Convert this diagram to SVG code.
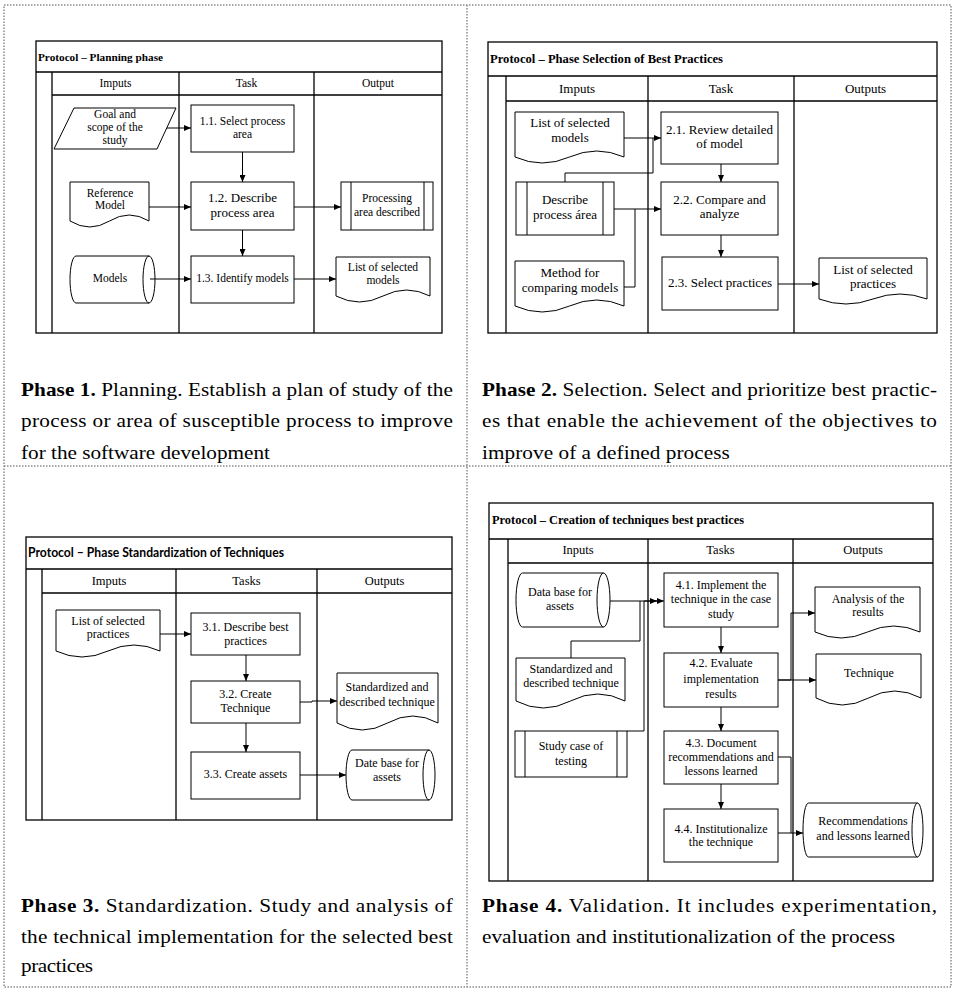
<svg xmlns="http://www.w3.org/2000/svg" width="954" height="989" viewBox="0 0 954 989">
<style>
.dot{fill:none;stroke:#8c8c8c;stroke-width:1.5;stroke-dasharray:1.5 1.5}
.pb{fill:none;stroke:#000;stroke-width:1.3}
.n{fill:#fff;stroke:#000;stroke-width:1}
.c{fill:none;stroke:#000;stroke-width:1}
.ca{fill:none;stroke:#000;stroke-width:1;marker-end:url(#ah)}
text{font-family:"Liberation Serif","Times New Roman",serif;fill:#000}
text.sans{font-family:Lato,"Open Sans",sans-serif}
.m{text-anchor:middle}
.f1{font-size:11.5px}
.f2{font-size:13px}
.f3{font-size:12px}
.hd{font-size:12.5px}
.ti{font-weight:bold}
.cap{font-size:18px}
</style>
<defs>
<marker id="ah" markerWidth="7" markerHeight="6" refX="7" refY="3" orient="auto" markerUnits="userSpaceOnUse">
<path d="M0,0 L7,3 L0,6 Z" fill="#000"/>
</marker>
</defs>
<rect width="954" height="989" fill="#fff"/>
<g id="frame">
<rect class="dot" x="4" y="5" width="947" height="982"/>
<line class="dot" x1="467" y1="5" x2="467" y2="987"/>
<line class="dot" x1="4" y1="466" x2="951" y2="466"/>
</g>

<!-- Phase 1 panel -->
<g id="panel1">
<rect class="pb" x="36" y="41" width="406" height="292"/>
<path class="pb" d="M36,72 H442 M52,72 V333 M52,95 H442 M179,72 V333 M314,72 V333"/>
<text class="ti" x="38" y="61" font-size="11" textLength="125" lengthAdjust="spacingAndGlyphs">Protocol – Planning phase</text>
<text class="m f1" x="115.5" y="87">Imputs</text>
<text class="m f1" x="246.5" y="87">Task</text>
<text class="m f1" x="378" y="87">Output</text>
</g>
<g id="p1-goal" class="f1">
<path class="n" d="M74,108 H176 L157,149 H54 Z"/>
<text class="m" x="115" y="118">Goal and</text>
<text class="m" x="115" y="131">scope of the</text>
<text class="m" x="115" y="144">study</text>
</g>
<g id="p1-t11" class="f1">
<rect class="n" x="191" y="105" width="103" height="47"/>
<text class="m" x="242.5" y="125">1.1. Select process</text>
<text class="m" x="242.5" y="138">area</text>
</g>
<g id="p1-ref" class="f1">
<path class="n" d="M70,182 H149 V221 Q129.25,209 109.5,221 T70,221 Z"/>
<text class="m" x="110" y="197">Reference</text>
<text class="m" x="110" y="209">Model</text>
</g>
<g id="p1-t12" class="f2">
<rect class="n" x="191" y="182" width="103" height="48"/>
<text class="m" x="242.5" y="202">1.2. Describe</text>
<text class="m" x="242.5" y="217">process area</text>
</g>
<g id="p1-proc" class="f1">
<rect class="n" x="341" y="182" width="92" height="48"/>
<path class="c" d="M351,182 V230 M424,182 V230"/>
<text class="m" x="387" y="202">Processing</text>
<text class="m" x="387" y="216">area described</text>
</g>
<g id="p1-models" class="f1">
<path class="n" d="M76,256 H149 A6,23.5 0 0 1 149,303 H76 A6,23.5 0 0 1 76,256 Z"/>
<path class="c" d="M149,256 A6,23.5 0 0 0 149,303"/>
<text class="m" x="110" y="282">Models</text>
</g>
<g id="p1-t13" class="f1">
<rect class="n" x="191" y="256" width="103" height="47"/>
<text class="m" x="242.5" y="282">1.3. Identify models</text>
</g>
<g id="p1-list" class="f1">
<path class="n" d="M336,257 H430 V296 Q406.5,284 383,296 T336,296 Z"/>
<text class="m" x="383" y="271">List of selected</text>
<text class="m" x="383" y="284">models</text>
</g>

<!-- Phase 2 panel -->
<g id="panel2">
<rect class="pb" x="488" y="42" width="449" height="291"/>
<path class="pb" d="M488,76 H937 M506,76 V333 M506,101 H937 M648,76 V333 M794,76 V333"/>
<text class="ti" x="490" y="63" font-size="13" textLength="233" lengthAdjust="spacingAndGlyphs">Protocol – Phase Selection of Best Practices</text>
<text class="m f2" x="577" y="93">Imputs</text>
<text class="m f2" x="721" y="93">Task</text>
<text class="m f2" x="865.5" y="93">Outputs</text>
</g>
<g id="p2-list" class="f2">
<path class="n" d="M515,112 H624 V157 Q596.75,145 569.5,157 T515,157 Z"/>
<text class="m" x="570" y="127">List of selected</text>
<text class="m" x="570" y="142">models</text>
</g>
<g id="p2-t21" class="f2">
<rect class="n" x="661" y="112" width="117" height="52"/>
<text class="m" x="719.5" y="134">2.1. Review detailed</text>
<text class="m" x="719.5" y="148">of model</text>
</g>
<g id="p2-desc" class="f2">
<rect class="n" x="516" y="182" width="98" height="53"/>
<path class="c" d="M527,182 V235 M603,182 V235"/>
<text class="m" x="565" y="204">Describe</text>
<text class="m" x="565" y="219">process área</text>
</g>
<g id="p2-t22" class="f2">
<rect class="n" x="661" y="182" width="117" height="53"/>
<text class="m" x="719.5" y="204">2.2. Compare and</text>
<text class="m" x="719.5" y="218">analyze</text>
</g>
<g id="p2-method" class="f2">
<path class="n" d="M515,261 H624 V306 Q596.75,294 569.5,306 T515,306 Z"/>
<text class="m" x="570" y="277">Method for</text>
<text class="m" x="570" y="292">comparing models</text>
</g>
<g id="p2-t23" class="f2">
<rect class="n" x="662" y="257" width="116" height="53"/>
<text class="m" x="720" y="287">2.3. Select practices</text>
</g>
<g id="p2-out" class="f2">
<path class="n" d="M819,258 H927 V299 Q900,289 873,299 T819,299 Z"/>
<text class="m" x="873" y="274">List of selected</text>
<text class="m" x="873" y="288">practices</text>
</g>

<!-- Phase 3 panel -->
<g id="panel3">
<rect class="pb" x="26" y="537" width="426" height="283"/>
<path class="pb" d="M26,569 H452 M42,569 V820 M42,593 H452 M176,569 V820 M317,569 V820"/>
<text class="sans" x="28" y="557" font-weight="bold" font-size="12.5" textLength="256" lengthAdjust="spacingAndGlyphs">Protocol – Phase Standardization of Techniques</text>
<text class="m hd" x="109" y="585">Imputs</text>
<text class="m hd" x="246.5" y="585">Tasks</text>
<text class="m hd" x="384.5" y="585">Outputs</text>
</g>
<g id="p3-list" class="f3">
<path class="n" d="M56,610 H160 V651 Q134,639 108,651 T56,651 Z"/>
<text class="m" x="108" y="625">List of selected</text>
<text class="m" x="108" y="638">practices</text>
</g>
<g id="p3-t31" class="f3">
<rect class="n" x="191" y="613" width="109" height="42"/>
<text class="m" x="245.5" y="631">3.1. Describe best</text>
<text class="m" x="245.5" y="645">practices</text>
</g>
<g id="p3-t32" class="f3">
<rect class="n" x="191" y="681" width="109" height="42"/>
<text class="m" x="245.5" y="698">3.2. Create</text>
<text class="m" x="245.5" y="712">Technique</text>
</g>
<g id="p3-std" class="f3">
<path class="n" d="M337,673 H438 V723 Q412.75,709 387.5,723 T337,723 Z"/>
<text class="m" x="387" y="691">Standardized and</text>
<text class="m" x="387" y="706">described technique</text>
</g>
<g id="p3-t33" class="f3">
<rect class="n" x="191" y="752" width="109" height="47"/>
<text class="m" x="245.5" y="778">3.3. Create assets</text>
</g>
<g id="p3-db" class="f3">
<path class="n" d="M352,750 H429 A6,25 0 0 1 429,800 H352 A6,25 0 0 1 352,750 Z"/>
<path class="c" d="M429,750 A6,25 0 0 0 429,800"/>
<text class="m" x="387" y="767">Date base for</text>
<text class="m" x="387" y="781">assets</text>
</g>

<!-- Phase 4 panel -->
<g id="panel4">
<rect class="pb" x="489" y="503" width="444" height="378"/>
<path class="pb" d="M489,539 H933 M508,539 V881 M508,563 H933 M648,539 V881 M793,539 V881"/>
<text class="ti" x="492" y="524" font-size="13" textLength="252" lengthAdjust="spacingAndGlyphs">Protocol – Creation of techniques best practices</text>
<text class="m hd" x="578" y="554">Inputs</text>
<text class="m hd" x="720.5" y="554">Tasks</text>
<text class="m hd" x="863" y="554">Outputs</text>
</g>
<g id="p4-db" class="f3">
<path class="n" d="M522.5,573 H603.5 A6.5,27 0 0 1 603.5,627 H522.5 A6.5,27 0 0 1 522.5,573 Z"/>
<path class="c" d="M603.5,573 A6.5,27 0 0 0 603.5,627"/>
<text class="m" x="560" y="596">Data base for</text>
<text class="m" x="560" y="610">assets</text>
</g>
<g id="p4-t41" class="f3">
<rect class="n" x="664" y="573" width="114" height="54"/>
<text class="m" x="721" y="589">4.1. Implement the</text>
<text class="m" x="721" y="603">technique in the case</text>
<text class="m" x="721" y="618">study</text>
</g>
<g id="p4-std" class="f3">
<path class="n" d="M516,658 H625 V701 Q597.75,687 570.5,701 T516,701 Z"/>
<text class="m" x="571" y="673">Standardized and</text>
<text class="m" x="571" y="687">described technique</text>
</g>
<g id="p4-study" class="f3">
<rect class="n" x="515" y="731" width="112" height="46"/>
<path class="c" d="M525,731 V777 M617,731 V777"/>
<text class="m" x="571" y="750">Study case of</text>
<text class="m" x="571" y="765">testing</text>
</g>
<g id="p4-t42" class="f3">
<rect class="n" x="664" y="653" width="114" height="54"/>
<text class="m" x="721" y="667">4.2. Evaluate</text>
<text class="m" x="721" y="683">implementation</text>
<text class="m" x="721" y="698">results</text>
</g>
<g id="p4-analysis" class="f3">
<path class="n" d="M815,587 H920 V632 Q893.75,620 867.5,632 T815,632 Z"/>
<text class="m" x="868" y="603">Analysis of the</text>
<text class="m" x="868" y="616">results</text>
</g>
<g id="p4-tech" class="f3">
<path class="n" d="M816,654 H921 V698 Q894.75,684 868.5,698 T816,698 Z"/>
<text class="m" x="869" y="677">Technique</text>
</g>
<g id="p4-t43" class="f3">
<rect class="n" x="664" y="731" width="114" height="53"/>
<text class="m" x="721" y="747">4.3. Document</text>
<text class="m" x="721" y="761">recommendations and</text>
<text class="m" x="721" y="775">lessons learned</text>
</g>
<g id="p4-t44" class="f3">
<rect class="n" x="664" y="809" width="114" height="53"/>
<text class="m" x="721" y="833">4.4. Institutionalize</text>
<text class="m" x="721" y="846">the technique</text>
</g>
<g id="p4-rec" class="f3">
<path class="n" d="M808.5,803 H917.5 A5.5,27 0 0 1 917.5,857 H808.5 A5.5,27 0 0 1 808.5,803 Z"/>
<path class="c" d="M917.5,803 A5.5,27 0 0 0 917.5,857"/>
<text class="m" x="863" y="825">Recommendations</text>
<text class="m" x="863" y="840">and lessons learned</text>
</g>

<g id="connectors">
<path class="ca" d="M167,128 H191"/>
<path class="ca" d="M242.5,152 V182"/>
<path class="ca" d="M149,207 H191"/>
<path class="ca" d="M294,207 H341"/>
<path class="ca" d="M242.5,230 V256"/>
<path class="ca" d="M150,279 H191"/>
<path class="ca" d="M294,279 H336"/>

<path class="ca" d="M624,138 H661"/>
<path class="c" d="M565,182 V173 H653 V138"/>
<path class="ca" d="M721,164 V182"/>
<path class="ca" d="M614,209 H661"/>
<path class="c" d="M624,287 H635 V209"/>
<path class="ca" d="M721,235 V257"/>
<path class="ca" d="M778,284 H819"/>

<path class="ca" d="M160,634 H191"/>
<path class="ca" d="M246,655 V681"/>
<path class="ca" d="M300,702 H312 V701 H337"/>
<path class="ca" d="M246,723 V752"/>
<path class="ca" d="M300,775 H346"/>

<path class="ca" d="M610,601 H664"/>
<path class="c" d="M571,658 V641 H640 V601"/>
<path class="c" d="M627,731 H644 V601"/>
<path class="ca" d="M644,601 H657"/>
<path class="ca" d="M721,627 V653"/>
<path class="ca" d="M778,680 H816"/>
<path class="ca" d="M778,680 H791 V613 H815"/>
<path class="ca" d="M721,707 V731"/>
<path class="c" d="M778,757 H791 V833"/>
<path class="ca" d="M778,833 H803"/>
<path class="ca" d="M721,784 V809"/>
</g>

<g id="captions" class="cap">
<g transform="translate(21,0) scale(1.18,1)">
<text x="0" y="396" textLength="366" lengthAdjust="spacing"><tspan font-weight="bold">Phase 1.</tspan> Planning. Establish a plan of study of the</text>
<text x="0" y="427.5" textLength="366" lengthAdjust="spacing">process or area of susceptible process to improve</text>
<text x="0" y="459" textLength="211" lengthAdjust="spacing">for the software development</text>
<text x="0" y="912" textLength="366" lengthAdjust="spacing"><tspan font-weight="bold">Phase 3.</tspan> Standardization. Study and analysis of</text>
<text x="0" y="943" textLength="366" lengthAdjust="spacing">the technical implementation for the selected best</text>
<text x="0" y="972" textLength="61" lengthAdjust="spacing">practices</text>
</g>
<g transform="translate(482,0) scale(1.18,1)">
<text x="0" y="396" textLength="385.6" lengthAdjust="spacing"><tspan font-weight="bold">Phase 2.</tspan> Selection. Select and prioritize best practic-</text>
<text x="0" y="427.5" textLength="385.6" lengthAdjust="spacing">es that enable the achievement of the objectives to</text>
<text x="0" y="459" textLength="210" lengthAdjust="spacing">improve of a defined process</text>
<text x="0" y="912" textLength="385.6" lengthAdjust="spacing"><tspan font-weight="bold">Phase 4.</tspan> Validation. It includes experimentation,</text>
<text x="0" y="943" textLength="350" lengthAdjust="spacing">evaluation and institutionalization of the process</text>
</g>
</g>
</svg>
